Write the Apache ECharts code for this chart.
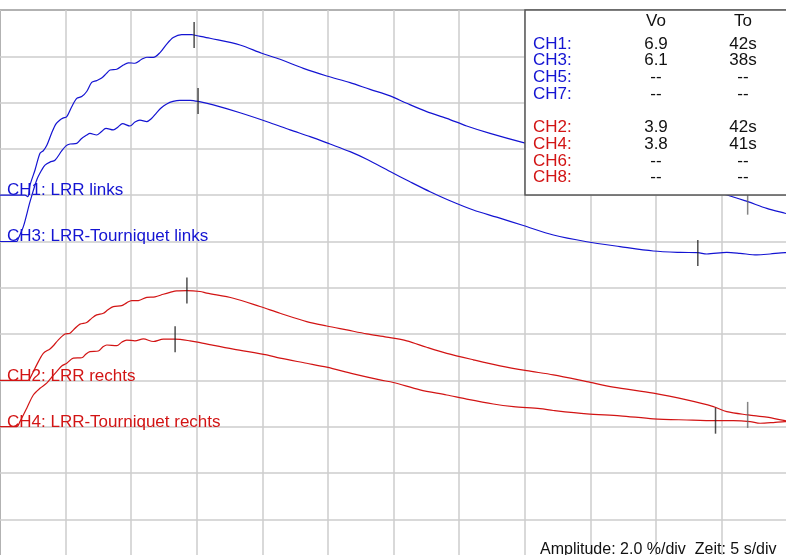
<!DOCTYPE html>
<html><head><meta charset="utf-8">
<script src="https://cdn.jsdelivr.net/npm/echarts@6/dist/echarts.min.js"></script>
<style>html,body{margin:0;padding:0;background:#fff;overflow:hidden}#c{width:786px;height:555px}</style>
</head><body><div id="c"></div>
<script>
// time in s, amplitude in % relative to each channel's baseline
const ch1 = [[0,0],[1.9,0],[2.13,-0.06],[2.29,0.44],[2.67,1.09],[3.05,1.81],[3.30,1.92],[3.58,2.17],[3.94,2.69],[4.27,3.08],[4.57,3.25],[4.80,3.33],[5.09,3.39],[5.47,3.82],[5.85,4.18],[6.23,4.26],[6.61,4.48],[6.99,4.87],[7.37,4.95],[7.75,5.06],[8.08,5.24],[8.39,5.41],[8.90,5.44],[9.40,5.62],[9.78,5.72],[10.29,5.70],[10.80,5.87],[11.19,5.96],[11.69,5.95],[12.20,6.16],[12.71,6.53],[13.21,6.81],[13.85,6.94],[14.62,6.94],[14.87,6.91],[16.01,6.78],[18.30,6.49],[19.95,6.13],[21.35,5.87],[23.13,5.48],[24.91,5.15],[26.69,4.86],[28.21,4.57],[29.74,4.29],[31.01,3.97],[32.53,3.61],[34.06,3.32],[35.58,2.99],[37.36,2.67],[39.90,2.27],[42.70,1.87],[45.75,1.43],[48.80,1.00],[51.85,0.53],[55.43,0.01],[57.01,-0.28],[58.46,-0.57],[59.85,-0.78],[60,-0.8]];
const ch3 = [[0,0],[1.27,0],[1.40,0.14],[1.78,0.64],[2.29,1.72],[2.80,2.66],[3.18,3.09],[3.43,3.30],[3.81,3.43],[4.19,3.51],[4.70,3.91],[5.03,4.13],[5.34,4.21],[5.85,4.24],[6.18,4.43],[6.61,4.60],[6.86,4.67],[7.37,4.60],[7.70,4.73],[8.08,4.89],[8.64,4.82],[9.00,4.95],[9.34,5.09],[9.91,4.99],[10.29,5.16],[10.67,5.24],[11.19,5.18],[11.51,5.29],[11.95,5.57],[12.28,5.77],[12.71,5.94],[13.19,6.05],[13.72,6.10],[14.49,6.10],[15.12,6.05],[16.26,5.90],[18.30,5.56],[20.59,5.13],[22.11,4.82],[23.64,4.53],[25.16,4.21],[26.69,3.88],[27.96,3.55],[29.74,3.02],[31.26,2.58],[32.79,2.15],[34.31,1.76],[36.09,1.36],[37.87,1.05],[39.90,0.69],[42.19,0.28],[44.73,-0.01],[47.27,-0.22],[49.81,-0.41],[51.85,-0.47],[53.20,-0.48],[53.88,-0.54],[55.41,-0.47],[56.42,-0.51],[57.70,-0.58],[58.71,-0.54],[59.85,-0.48],[60,-0.48]];
const ch2 = [[0,0],[2.13,0],[2.42,0.24],[2.80,0.67],[3.30,1.17],[3.81,1.36],[4.12,1.53],[4.45,1.75],[4.96,2.00],[5.34,2.04],[5.72,2.25],[6.10,2.43],[6.61,2.50],[6.98,2.68],[7.37,2.83],[7.88,2.90],[8.23,3.05],[8.64,3.19],[9.28,3.23],[9.65,3.35],[10.04,3.45],[10.55,3.45],[11.19,3.59],[11.82,3.61],[12.45,3.72],[12.96,3.80],[13.47,3.87],[14.24,3.88],[15.25,3.84],[15.76,3.77],[17.79,3.55],[19.82,3.19],[21.35,2.90],[23.38,2.54],[24.91,2.35],[26.44,2.18],[27.96,2.01],[29.48,1.87],[31.01,1.71],[32.53,1.43],[34.06,1.17],[36.09,0.89],[38.12,0.63],[40.16,0.42],[42.19,0.24],[44.73,-0.05],[46.76,-0.29],[49.81,-0.55],[52.36,-0.84],[54.39,-1.13],[55.41,-1.35],[57.03,-1.49],[58.46,-1.59],[59.85,-1.74],[60,-1.75]];
const ch4 = [[0,0],[1.27,0],[1.52,0.22],[2.04,0.80],[2.54,1.37],[3.05,1.66],[3.56,1.88],[3.96,2.15],[4.32,2.38],[4.73,2.63],[5.09,2.74],[5.59,2.96],[6.23,2.98],[6.56,3.14],[6.86,3.24],[7.50,3.27],[7.85,3.45],[8.14,3.53],[8.90,3.50],[9.30,3.66],[9.66,3.74],[10.29,3.71],[10.93,3.79],[11.69,3.68],[12.45,3.78],[13.34,3.78],[14.49,3.71],[15.25,3.63],[17.79,3.35],[20.34,3.10],[21.35,2.96],[23.38,2.74],[24.91,2.57],[26.94,2.28],[28.97,2.02],[29.99,1.91],[32.02,1.59],[34.06,1.37],[35.58,1.19],[37.61,0.98],[39.14,0.87],[41.17,0.78],[42.19,0.70],[44.73,0.55],[47.27,0.47],[49.81,0.34],[52.36,0.29],[54.54,0.26],[55.91,0.26],[57.19,0.22],[57.95,0.15],[58.96,0.18],[59.85,0.22],[60,0.22]];

const channelNames = ['CH1: LRR links','CH3: LRR-Tourniquet links','CH2: LRR rechts','CH4: LRR-Tourniquet rechts'];
const channelData = [ch1, ch3, ch2, ch4];
const channelBaselines = [16, 14, 8, 6]; // % offsets (2 %/div)
const channelColors = ['#1414d2','#1414d2','#d21414','#d21414'];

// markers: [channelIndex, time s, amplitude %]
const peakMarkers = [[0,14.8,6.92],[1,15.1,6.07],[2,14.25,3.88],[3,13.35,3.78]];
const endMarkers  = [[0,57.0,-0.28],[1,53.2,-0.50],[2,57.0,-1.49],[3,54.55,0.26]];

const tableRows = ['CH1:','CH3:','CH5:','CH7:','','CH2:','CH4:','CH6:','CH8:'];
const tableVo = ['6.9','6.1','--','--','','3.9','3.8','--','--'];
const tableTo = ['42s','38s','--','--','','42s','41s','--','--'];
const tableHeaders = ['Vo','To'];
const footerText = 'Amplitude: 2.0 %/div  Zeit: 5 s/div';

const chart = echarts.init(document.getElementById('c'));
const FONT = '"Liberation Sans", Arial, sans-serif';
const series = channelData.map((d, i) => ({
  type: 'line', name: channelNames[i], showSymbol: false, smooth: 0.3,
  data: d.map(p => [p[0], p[1] + channelBaselines[i]]),
  lineStyle: { color: channelColors[i], width: 1.2 }, itemStyle: { color: channelColors[i] },
  z: 3, silent: true, animation: false
}));
series.push({
  type: 'scatter', symbol: 'rect', symbolSize: [1.5, 26], z: 4, silent: true, animation: false,
  data: peakMarkers.concat(endMarkers).map(m => ({
    value: [m[1], m[2] + channelBaselines[m[0]]],
    itemStyle: { color: m[1] > 56.5 ? '#666' : '#222' }
  }))
});

const graphics = [];
const labelCenters = [190, 236, 375.5, 422];
channelNames.forEach((n, i) => graphics.push({
  type: 'text', left: 7, top: labelCenters[i] - 8, z: 5,
  style: { text: n, fill: channelColors[i], font: '17px ' + FONT }
}));
graphics.push({ type: 'rect', shape: { x: 525, y: 10, width: 280, height: 185 }, z: 50,
  style: { fill: '#fff', stroke: '#555', lineWidth: 1.5 } });
tableHeaders.forEach((h, j) => graphics.push({ type: 'text', x: [656, 743][j], y: 21, z: 51,
  style: { text: h, fill: '#111', font: '17px ' + FONT, align: 'center', verticalAlign: 'middle' } }));
tableRows.forEach((r, k) => {
  if (!r) return;
  const y = 44 + 16.7 * k;
  const col = k < 4 ? '#1414d2' : '#d21414';
  graphics.push({ type: 'text', x: 533, y: y, z: 51, style: { text: r, fill: col, font: '17px ' + FONT, verticalAlign: 'middle' } });
  graphics.push({ type: 'text', x: 656, y: y, z: 51, style: { text: tableVo[k], fill: '#111', font: '17px ' + FONT, align: 'center', verticalAlign: 'middle' } });
  graphics.push({ type: 'text', x: 743, y: y, z: 51, style: { text: tableTo[k], fill: '#111', font: '17px ' + FONT, align: 'center', verticalAlign: 'middle' } });
});
graphics.push({ type: 'text', x: 540, y: 542, z: 51, style: { text: footerText, fill: '#111', font: '16px ' + FONT } });

chart.setOption({
  animation: false,
  backgroundColor: '#fff',
  grid: { left: 0, top: 10, width: 787, height: 555.6, outerBoundsMode: 'none', containLabel: false,
    show: true, borderColor: '#333', borderWidth: 1.5, backgroundColor: 'transparent' },
  xAxis: { type: 'value', min: 0, max: 60, interval: 5, axisLabel: { show: false }, axisTick: { show: false }, axisLine: { show: false },
    splitLine: { show: true, lineStyle: { color: '#cccccc', width: 1.5 } } },
  yAxis: { type: 'value', min: 0, max: 24, interval: 2, axisLabel: { show: false }, axisTick: { show: false }, axisLine: { show: false },
    splitLine: { show: true, lineStyle: { color: '#cccccc', width: 1.5 } } },
  series: series,
  graphic: graphics
});
</script></body></html>
